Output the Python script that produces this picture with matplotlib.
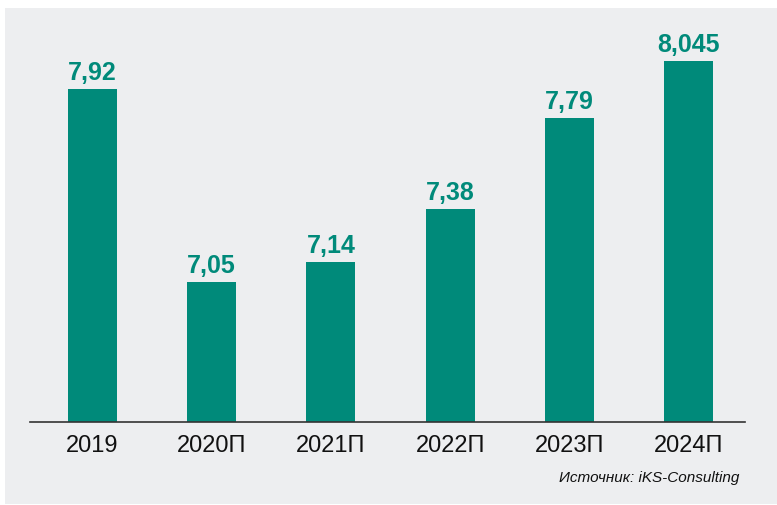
import matplotlib.pyplot as plt
from matplotlib.patches import Rectangle

years = ['2019', '2020П', '2021П', '2022П', '2023П', '2024П']
values = [7.92, 7.05, 7.14, 7.38, 7.79, 8.045]
value_labels = ['7,92', '7,05', '7,14', '7,38', '7,79', '8,045']

plt.rcParams['font.family'] = ['Liberation Sans', 'DejaVu Sans']

teal = '#008a7a'
panel = '#edeef0'

fig = plt.figure(figsize=(7.77, 5.05), dpi=100)
fig.patch.set_facecolor('white')
# grey panel behind the chart
fig.patches.append(Rectangle((5 / 777, 0.002), 1 - 5 / 777, 1 - 8 / 505 - 0.002,
                             transform=fig.transFigure, facecolor=panel, edgecolor='none', zorder=-5))

ax = fig.add_axes([30 / 777, 83 / 505, 715 / 777, 414 / 505])
ax.set_facecolor('none')

x = list(range(len(years)))
bars = ax.bar(x, values, width=0.41, color=teal)

for b, lab in zip(bars, value_labels):
    ax.annotate(lab, (b.get_x() + b.get_width() / 2, b.get_height()),
                xytext=(0, 3), textcoords='offset points', ha='center', va='bottom',
                fontsize=18, fontweight='bold', color=teal)

ax.set_ylim(6.42, 8.285)
ax.set_xlim(-0.524, 5.474)
ax.set_xticks(x)
ax.set_xticklabels(years, fontsize=17, color='#111111')
ax.tick_params(axis='x', length=0, pad=9)
ax.set_yticks([])
for s in ['top', 'left', 'right']:
    ax.spines[s].set_visible(False)
ax.spines['bottom'].set_color('#333333')
ax.spines['bottom'].set_linewidth(1.2)

fig.text(739 / 777, 27 / 505, 'Источник: iKS-Consulting', ha='right', va='center',
         fontsize=11, style='italic', color='#111111')

fig.savefig('out.png', dpi=100)
